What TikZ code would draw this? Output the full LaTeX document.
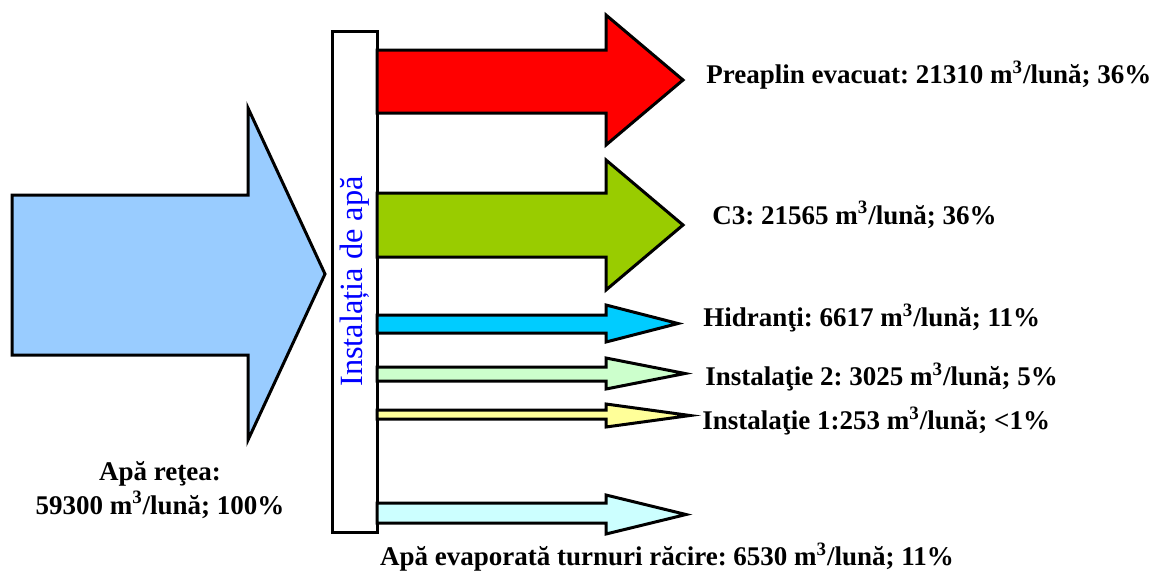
\documentclass[tikz,border=0pt]{standalone}
\usepackage{fontspec}
\setmainfont{Liberation Serif}
\usepackage{tikz}
\usetikzlibrary{positioning, fit}
\frenchspacing

\definecolor{inflow}{HTML}{99CCFF}
\definecolor{overflow}{HTML}{FF0000}
\definecolor{cthree}{HTML}{99CC00}
\definecolor{hydrant}{HTML}{00CCFF}
\definecolor{insttwo}{HTML}{CCFFCC}
\definecolor{instone}{HTML}{FFFF99}
\definecolor{evap}{HTML}{CCFFFF}

% flow arrow: colour, tail x, tail top, tail bottom, head x, head top, head bottom, tip x
\newcommand{\flowarr}[8]{%
  \draw[flowline, fill=#1] (#2,#3) -- (#5,#3) -- (#5,#6) -- (#8,{(#6+#7)/2})
    -- (#5,#7) -- (#5,#4) -- (#2,#4) -- cycle;}

\begin{document}
\begin{tikzpicture}[x=0.5pt, y=-0.5pt]

    % --- Estilos ---
    \tikzset{
        flowline/.style={draw=black, line width=1.5pt, line join=miter},
        bar/.style={rectangle, draw=black, line width=1.5pt, fill=white, inner sep=0pt},
        barlabel/.style={rotate=90, text=blue, font=\fontsize{16.2}{19}\selectfont},
        flowlabel/.style={anchor=west, inner sep=0pt, font=\fontsize{13.5}{16.8}\selectfont\bfseries, align=center}
    }

    \useasboundingbox (0,0) rectangle (1151,580);

    % --- Intrare ---
    \flowarr{inflow}{12}{195}{355}{248}{108}{440}{325}

    % --- Instalatia ---
    \node (inst) [bar, fit={(332,31) (377,532)}] {};
    \node (instlbl) [barlabel] at (inst.center) {Instalația de apă};

    % --- Iesiri ---
    \flowarr{overflow}{377}{50}{113}{606}{15}{145}{683}
    \flowarr{cthree}{377}{193}{257}{606}{160}{290}{683}
    \flowarr{hydrant}{377}{315}{333}{606}{305}{342}{678}
    \flowarr{insttwo}{377}{367}{381}{606}{358}{389}{685}
    \flowarr{instone}{377}{410}{419}{606}{404}{427}{690}
    \flowarr{evap}{377}{503}{523}{606}{495}{534}{686}

    % --- Etichete ---
    \node (lblover) [flowlabel] at (706,75) {Preaplin evacuat: 21310 m\textsuperscript{3}/lună; 36\%};
    \node (lblc3) [flowlabel] at (712,215) {C3: 21565 m\textsuperscript{3}/lună; 36\%};
    \node (lblhyd) [flowlabel] at (703,318) {Hidranţi: 6617 m\textsuperscript{3}/lună; 11\%};
    \node (lbltwo) [flowlabel] at (705,377) {Instalaţie 2: 3025 m\textsuperscript{3}/lună; 5\%};
    \node (lblone) [flowlabel] at (702,421) {Instalaţie 1:253 m\textsuperscript{3}/lună; <1\%};
    \node (lblin) [flowlabel, anchor=center] at (160,490) {Apă reţea:\\59300 m\textsuperscript{3}/lună; 100\%};
    \node (lblevap) [flowlabel, anchor=center] at (667,557) {Apă evaporată turnuri răcire: 6530 m\textsuperscript{3}/lună; 11\%};

\end{tikzpicture}
\end{document}
